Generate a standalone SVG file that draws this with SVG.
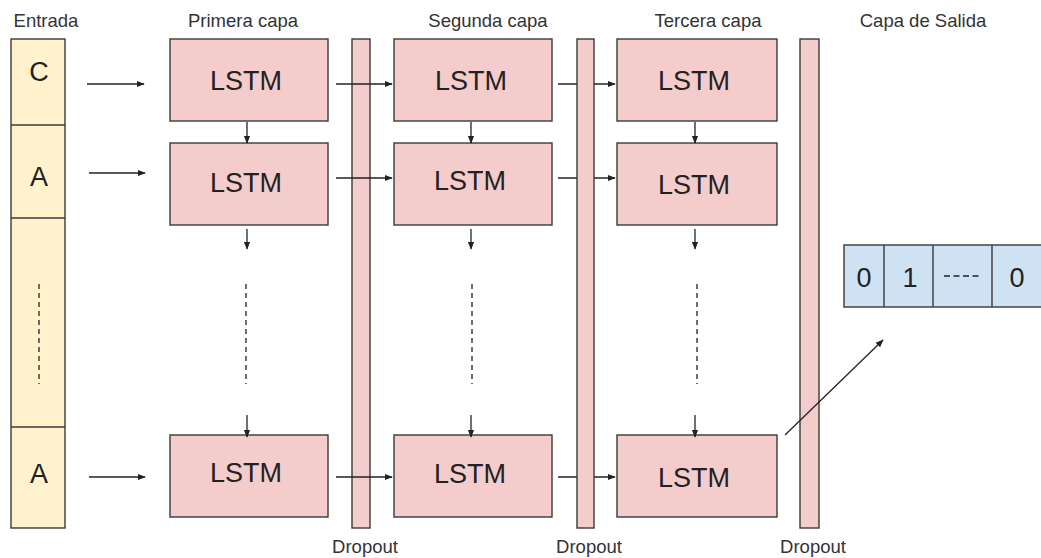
<svg xmlns="http://www.w3.org/2000/svg" width="1041" height="558" viewBox="0 0 1041 558">
<style>
.bx{stroke:#3a3a3a;stroke-width:1.4}
.in{fill:#fff2cc}
.ls{fill:#f4cccc}
.out{fill:#cfe2f3}
.t{font-family:"Liberation Sans",Arial,sans-serif;fill:#222;text-anchor:middle}
.h{font-size:18.5px;fill:#333}
.big{font-size:27px}
.c{stroke:#222;stroke-width:1.3;fill:none}
.d{stroke-dasharray:5,4}
</style>
<defs>
<marker id="ah" viewBox="0 0 10 10" refX="9" refY="5" markerWidth="8" markerHeight="8" markerUnits="userSpaceOnUse" orient="auto">
<path d="M0,1 L10,5 L0,9 Z" fill="#222"/>
</marker>
</defs>
<rect width="1041" height="558" fill="#fff"/>
<g id="headings">
<text class="t h" x="46" y="27">Entrada</text>
<text class="t h" x="243" y="27">Primera capa</text>
<text class="t h" x="488" y="27">Segunda capa</text>
<text class="t h" x="708" y="27">Tercera capa</text>
<text class="t h" x="923" y="27">Capa de Salida</text>
</g>
<g id="entrada">
<rect class="bx in" x="11" y="39" width="54" height="489"/>
<line class="bx" x1="11" y1="125" x2="65" y2="125"/>
<line class="bx" x1="11" y1="218" x2="65" y2="218"/>
<line class="bx" x1="11" y1="427" x2="65" y2="427"/>
<text class="t big" x="39" y="81">C</text>
<text class="t big" x="39" y="186">A</text>
<text class="t big" x="39" y="483">A</text>
<line class="c d" x1="39" y1="284" x2="39" y2="384"/>
</g>
<g id="connectors-under">
<line class="c" x1="558" y1="84" x2="615" y2="84" marker-end="url(#ah)"/>
<line class="c" x1="558" y1="178" x2="615" y2="178" marker-end="url(#ah)"/>
<line class="c" x1="558" y1="477" x2="615" y2="477" marker-end="url(#ah)"/>
</g>
<g id="dropout1"><rect class="bx ls" x="352" y="39" width="18" height="489"/><text class="t h" x="365" y="553">Dropout</text></g>
<g id="dropout2"><rect class="bx ls" x="577" y="39" width="17" height="489"/><text class="t h" x="589" y="553">Dropout</text></g>
<g id="dropout3"><rect class="bx ls" x="800" y="39" width="19" height="489"/><text class="t h" x="813" y="553">Dropout</text></g>
<g id="l1r1"><rect class="bx ls" x="170" y="39" width="158" height="82"/><text class="t big" x="246" y="90">LSTM</text></g>
<g id="l1r2"><rect class="bx ls" x="170" y="143" width="158" height="82"/><text class="t big" x="246" y="192">LSTM</text></g>
<g id="l1r3"><rect class="bx ls" x="170" y="435" width="158" height="82"/><text class="t big" x="246" y="482">LSTM</text></g>
<g id="l2r1"><rect class="bx ls" x="394" y="39" width="158" height="82"/><text class="t big" x="471" y="90">LSTM</text></g>
<g id="l2r2"><rect class="bx ls" x="394" y="143" width="158" height="82"/><text class="t big" x="470" y="190">LSTM</text></g>
<g id="l2r3"><rect class="bx ls" x="394" y="435" width="158" height="82"/><text class="t big" x="470" y="483">LSTM</text></g>
<g id="l3r1"><rect class="bx ls" x="617" y="39" width="160" height="82"/><text class="t big" x="694" y="90">LSTM</text></g>
<g id="l3r2"><rect class="bx ls" x="617" y="143" width="160" height="82"/><text class="t big" x="694" y="194">LSTM</text></g>
<g id="l3r3"><rect class="bx ls" x="617" y="435" width="160" height="82"/><text class="t big" x="694" y="487">LSTM</text></g>
<g id="salida">
<rect class="bx out" x="844" y="245" width="210" height="62"/>
<line class="bx" x1="884" y1="245" x2="884" y2="307"/>
<line class="bx" x1="933" y1="245" x2="933" y2="307"/>
<line class="bx" x1="992" y1="245" x2="992" y2="307"/>
<text class="t big" x="864" y="287">0</text>
<text class="t big" x="910" y="287">1</text>
<line x1="944" y1="276" x2="982" y2="276" stroke="#222" stroke-width="1.3" stroke-dasharray="6,3.5"/>
<text class="t big" x="1017" y="287">0</text>
</g>
<g id="connectors">
<line class="c" x1="87" y1="84" x2="144" y2="84" marker-end="url(#ah)"/>
<line class="c" x1="89" y1="173" x2="145" y2="173" marker-end="url(#ah)"/>
<line class="c" x1="89" y1="477" x2="145" y2="477" marker-end="url(#ah)"/>
<line class="c" x1="336" y1="84" x2="392" y2="84" marker-end="url(#ah)"/>
<line class="c" x1="336" y1="178" x2="392" y2="178" marker-end="url(#ah)"/>
<line class="c" x1="336" y1="477" x2="392" y2="477" marker-end="url(#ah)"/>
<line class="c" x1="247" y1="122" x2="247" y2="143" marker-end="url(#ah)"/>
<line class="c" x1="247" y1="229" x2="247" y2="249" marker-end="url(#ah)"/>
<line class="c d" x1="246" y1="284" x2="246" y2="384"/>
<line class="c" x1="247" y1="415" x2="247" y2="437" marker-end="url(#ah)"/>
<line class="c" x1="471" y1="122" x2="471" y2="143" marker-end="url(#ah)"/>
<line class="c" x1="471" y1="229" x2="471" y2="249" marker-end="url(#ah)"/>
<line class="c d" x1="472" y1="284" x2="472" y2="384"/>
<line class="c" x1="471" y1="415" x2="471" y2="437" marker-end="url(#ah)"/>
<line class="c" x1="695" y1="122" x2="695" y2="143" marker-end="url(#ah)"/>
<line class="c" x1="695" y1="229" x2="695" y2="249" marker-end="url(#ah)"/>
<line class="c d" x1="697" y1="284" x2="697" y2="384"/>
<line class="c" x1="695" y1="415" x2="695" y2="437" marker-end="url(#ah)"/>
<line class="c" x1="785" y1="435" x2="883" y2="340" marker-end="url(#ah)"/>
</g>
</svg>
